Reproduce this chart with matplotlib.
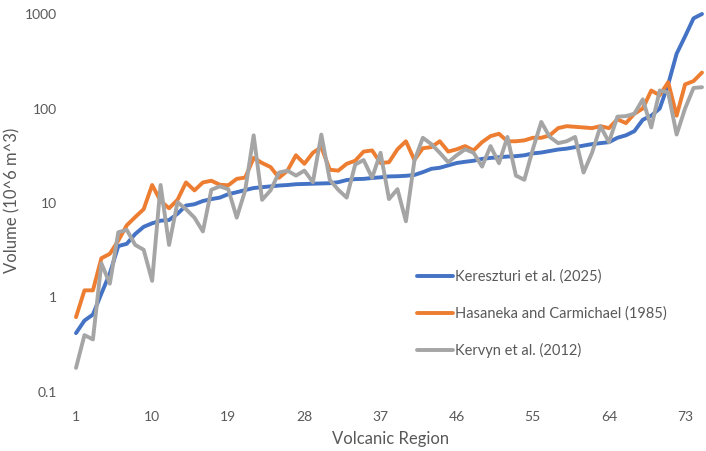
import matplotlib
matplotlib.use("Agg")
import matplotlib.pyplot as plt
import numpy as np

plt.rcParams['font.family'] = ['Lato', 'DejaVu Sans']

regions = list(range(1, 76))
kereszturi = [0.42, 0.57, 0.66, 1.1, 1.8, 3.5, 3.7, 4.7, 5.6, 6.1,
              6.5, 6.6, 7.7, 9.4, 9.7, 10.5, 11.0, 11.4, 12.4, 13.0,
              13.7, 14.4, 14.7, 15.0, 15.3, 15.5, 15.8, 15.9, 16.0, 16.1,
              16.2, 16.6, 17.5, 17.9, 18.0, 18.4, 18.7, 19.1, 19.2, 19.4,
              19.8, 21.2, 23.0, 23.6, 25.0, 26.5, 27.3, 28.0, 29.3, 30.0,
              30.5, 31.0, 31.3, 32.0, 33.5, 34.2, 35.5, 36.8, 37.6, 39.0,
              40.5, 42.0, 43.0, 44.0, 49.0, 52.0, 57.5, 76.0, 84.0, 100.0,
              180.0, 380.0, 580.0, 900.0, 1000.0]
hasaneka = [0.62, 1.19, 1.19, 2.6, 2.9, 4.0, 5.8, 7.1, 8.6, 15.5,
            10.5, 8.8, 10.8, 16.5, 13.6, 16.5, 17.2, 15.6, 15.4, 18.0,
            18.6, 30.0, 26.5, 24.0, 18.5, 22.0, 32.0, 26.0, 34.0, 39.0,
            22.5, 22.0, 26.0, 28.0, 35.0, 36.0, 26.5, 27.0, 37.0, 45.0,
            28.5, 38.0, 39.0, 45.0, 35.0, 37.0, 40.0, 36.0, 44.0, 51.0,
            54.0, 45.0, 45.0, 46.0, 49.0, 49.0, 52.0, 62.0, 65.0, 64.0,
            63.0, 62.0, 65.0, 62.0, 77.0, 70.0, 88.0, 100.0, 155.0, 138.0,
            190.0, 84.0, 180.0, 195.0, 240.0]
kervyn = [0.18, 0.40, 0.36, 2.3, 1.4, 4.9, 5.2, 3.6, 3.2, 1.5,
          15.5, 3.6, 10.2, 8.6, 7.0, 5.0, 13.8, 15.0, 14.0, 7.0,
          13.6, 52.0, 10.8, 13.6, 21.0, 22.0, 19.5, 22.0, 16.6, 53.0,
          17.6, 13.8, 11.4, 25.5, 28.5, 18.5, 34.0, 11.0, 14.0, 6.4,
          28.0, 49.0, 42.0, 34.0, 27.0, 32.0, 37.0, 34.0, 24.3, 40.0,
          26.4, 50.0, 19.5, 17.6, 37.0, 72.0, 50.0, 43.0, 45.0, 50.0,
          21.0, 34.0, 65.0, 44.0, 82.0, 83.0, 88.0, 125.0, 63.0, 155.0,
          148.0, 53.0, 100.0, 165.0, 168.0]
series_labels = ["Kereszturi et al. (2025)", "Hasaneka and Carmichael (1985)", "Kervyn et al. (2012)"]
colors = ["#4472C4", "#ED7D31", "#A5A5A5"]
xticks = [1, 10, 19, 28, 37, 46, 55, 64, 73]
yticks = [0.1, 1, 10, 100, 1000]
ytick_labels = ["0.1", "1", "10", "100", "1000"]

W, H = 706, 451
fig = plt.figure(figsize=(W/100, H/100), dpi=100)
ax = fig.add_axes([76/W, 1-392/H, (702-76)/W, (392-14)/H])

text_color = "#595959"
for data, lab, col in zip([kereszturi, hasaneka, kervyn], series_labels, colors):
    ax.plot(regions, data, color=col, lw=2.8, label=lab,
            solid_joinstyle='round', solid_capstyle='round', clip_on=False)

ax.set_yscale('log')
ax.set_ylim(0.1, 1000)
ax.set_xlim(1, 75)
ax.set_yticks(yticks)
ax.set_yticklabels(ytick_labels)
ax.yaxis.set_minor_locator(matplotlib.ticker.NullLocator())
ax.set_xticks(xticks)
ax.set_xticklabels([str(t) for t in xticks])
ax.tick_params(axis='both', length=0, labelsize=10, colors=text_color)
ax.tick_params(axis='y', pad=13.5)
ax.tick_params(axis='x', pad=14)
for s in ax.spines.values():
    s.set_visible(False)

ax.set_xlabel("Volcanic Region", fontsize=12, color=text_color)
ax.set_ylabel("Volume (10^6 m^3)", fontsize=12, color=text_color)
ax.xaxis.set_label_coords(0.502, (392-431)/378)
ax.yaxis.set_label_coords((20-76)/626, (392-200)/378)

leg = ax.legend(loc='center left', bbox_to_anchor=(417/W, 1-314/H),
                bbox_transform=fig.transFigure, frameon=False, fontsize=10.5,
                handlelength=2.45, handletextpad=0.15, labelspacing=1.55,
                borderpad=0, borderaxespad=0)
for t in leg.get_texts():
    t.set_color(text_color)

fig.savefig("out.png", dpi=100)
